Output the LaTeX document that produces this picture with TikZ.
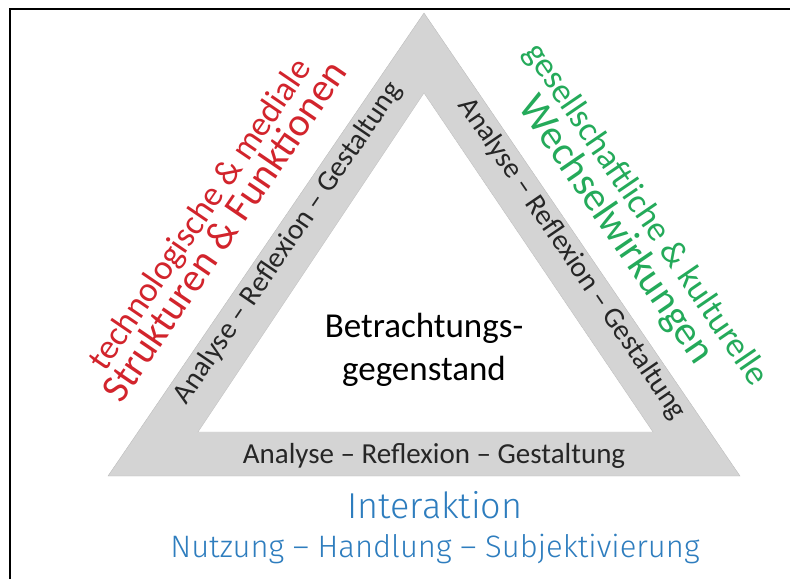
\documentclass[tikz,border=0pt]{standalone}
\usepackage{fontspec}
\setmainfont{Carlito}
\newfontfamily\blueface{Fira Sans Light}

\definecolor{techred}{RGB}{210,36,44}
\definecolor{socgreen}{RGB}{36,170,90}
\definecolor{iablue}{RGB}{46,125,190}
\definecolor{bandgray}{RGB}{212,212,212}
\definecolor{bandedge}{RGB}{188,188,188}

\tikzset{
  bandlabel/.style={font=\fontsize{29}{34}\selectfont, text=black!85, inner sep=0pt, anchor=base},
  smallside/.style={font=\fontsize{35}{40}\selectfont, inner sep=0pt, anchor=base},
  bigside/.style={font=\fontsize{40}{46}\selectfont, inner sep=0pt, anchor=base},
}

\begin{document}
\begin{tikzpicture}[x=1pt,y=-1pt]
        \useasboundingbox (0,0) rectangle (790,579);
        % frame, only top and left edge
        \draw[line width=2.5pt] (10,579) -- (10,9) -- (790,9);
        % the triangle
        \coordinate (apex) at (424,13);
        \coordinate (left) at (108,476);
        \coordinate (right) at (740,476);
        \coordinate (inapex) at (424,93);
        \coordinate (inleft) at (198,432);
        \coordinate (inright) at (653,432);
        \filldraw[fill=bandgray, draw=bandedge] (apex) -- (left) -- (right) -- cycle;
        \filldraw[fill=white, draw=bandedge] (inapex) -- (inleft) -- (inright) -- cycle;
        % labels on the band
        \node[bandlabel, rotate=55.7] (bandL) at (294.5,247.5) {Analyse – Reflexion – Gestaltung};
        \node[bandlabel, rotate=-55.7] (bandR) at (565.7,263.1) {Analyse – Reflexion – Gestaltung};
        \node[bandlabel] (bandB) at (434,463) {Analyse – Reflexion – Gestaltung};
        % inside
        \node[font=\fontsize{35}{42}\selectfont, anchor=base] (obj1) at (424,337) {Betrachtungs-};
        \node[font=\fontsize{35}{42}\selectfont, anchor=base] (obj2) at (424,380) {gegenstand};
        % outside
        \node[smallside, text=techred, rotate=55.7] (tech) at (208.7,220.2) {technologische \& mediale};
        \node[bigside, text=techred, rotate=55.7] (struct) at (235.1,238.3) {Strukturen \& Funktionen};
        \node[smallside, text=socgreen, rotate=-55.7] (soc) at (637.9,220.0) {gesellschaftliche \& kulturelle};
        \node[bigside, font=\fontsize{41}{46}\selectfont, text=socgreen, rotate=-55.7] (wechsel) at (606.7,236.4) {Wechselwirkungen};
        \node[font=\blueface\fontsize{36}{40}\selectfont, text=iablue, anchor=base] (inter) at (435,518) {Interaktion};
        \node[font=\blueface\fontsize{31}{34}\selectfont, text=iablue, anchor=base] (use) at (435,557) {Nutzung – Handlung – Subjektivierung};
\end{tikzpicture}
\end{document}
